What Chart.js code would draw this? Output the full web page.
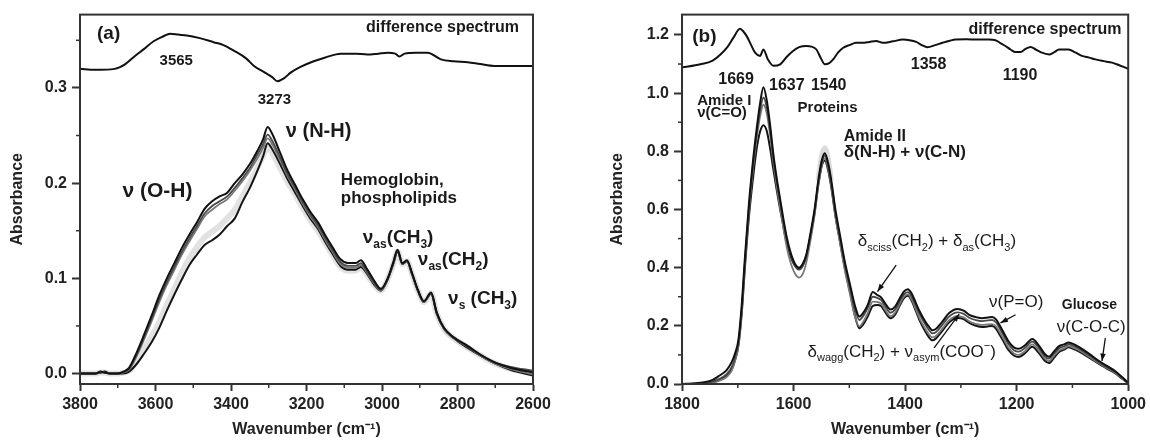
<!DOCTYPE html>
<html>
<head>
<meta charset="utf-8">
<script src="https://cdn.jsdelivr.net/npm/chart.js@4.4.1/dist/chart.umd.min.js"></script>
<style>
  body { margin: 0; background: #fff; }
  #wrap { position: relative; width: 1150px; height: 442px; }
  .panel { position: absolute; top: 0; width: 575px; height: 442px; }
</style>
</head>
<body>
<div id="wrap">
  <div class="panel" style="left:0"><canvas id="chartA"></canvas></div>
  <div class="panel" style="left:575px"><canvas id="chartB"></canvas></div>
</div>
<script>
const FONT = "'Liberation Sans', Arial, sans-serif";

// ---- panel (a): 3800-2600 cm-1 ----
const waveA = [3800, 3760, 3745, 3735, 3720, 3700, 3685, 3670, 3650, 3630, 3610, 3590, 3570, 3550, 3530, 3510, 3490, 3470, 3450, 3430,
  3410, 3390, 3370, 3350, 3330, 3315, 3303, 3290, 3270, 3250, 3230, 3210, 3190, 3170, 3150, 3130, 3110, 3090, 3070, 3056,
  3040, 3020, 3003, 2985, 2970, 2959, 2946, 2934, 2920, 2905, 2889, 2870, 2855, 2836, 2810, 2773, 2740, 2703, 2660, 2600];
const specA1 = [0.000, 0.000, 0.002, 0.001, 0.000, 0.000, 0.002, 0.006, 0.022, 0.041, 0.061, 0.082, 0.100, 0.116, 0.132, 0.146, 0.159, 0.173, 0.181, 0.186,
  0.190, 0.200, 0.209, 0.220, 0.234, 0.246, 0.259, 0.251, 0.232, 0.213, 0.198, 0.183, 0.170, 0.159, 0.145, 0.132, 0.120, 0.116, 0.116, 0.119,
  0.110, 0.097, 0.089, 0.100, 0.117, 0.130, 0.116, 0.119, 0.105, 0.088, 0.076, 0.085, 0.064, 0.048, 0.038, 0.029, 0.020, 0.012, 0.006, 0.001];
const specA2 = [0.000, 0.000, 0.001, 0.001, 0.000, 0.000, 0.001, 0.005, 0.020, 0.038, 0.058, 0.078, 0.096, 0.112, 0.128, 0.142, 0.155, 0.168, 0.176, 0.181,
  0.186, 0.195, 0.205, 0.216, 0.230, 0.241, 0.251, 0.244, 0.227, 0.209, 0.195, 0.180, 0.167, 0.156, 0.142, 0.129, 0.117, 0.113, 0.113, 0.116,
  0.107, 0.095, 0.088, 0.099, 0.116, 0.129, 0.115, 0.118, 0.104, 0.087, 0.076, 0.084, 0.064, 0.048, 0.038, 0.028, 0.020, 0.012, 0.007, 0.003];
const specA3 = [0.000, 0.000, 0.002, 0.001, 0.000, 0.000, 0.001, 0.004, 0.018, 0.036, 0.055, 0.075, 0.093, 0.109, 0.125, 0.139, 0.152, 0.165, 0.172, 0.178,
  0.183, 0.192, 0.202, 0.213, 0.226, 0.237, 0.247, 0.240, 0.224, 0.207, 0.193, 0.178, 0.165, 0.154, 0.140, 0.127, 0.115, 0.111, 0.111, 0.114,
  0.106, 0.094, 0.087, 0.099, 0.116, 0.129, 0.115, 0.118, 0.104, 0.087, 0.075, 0.084, 0.063, 0.047, 0.037, 0.028, 0.019, 0.011, 0.005, -0.001];
const specA4 = [0.000, 0.000, 0.001, 0.002, 0.000, 0.000, 0.000, 0.002, 0.010, 0.021, 0.033, 0.048, 0.066, 0.083, 0.099, 0.114, 0.125, 0.135, 0.140, 0.146,
  0.155, 0.163, 0.180, 0.195, 0.213, 0.228, 0.242, 0.235, 0.220, 0.204, 0.190, 0.176, 0.163, 0.152, 0.138, 0.125, 0.113, 0.109, 0.109, 0.112,
  0.105, 0.093, 0.087, 0.099, 0.115, 0.128, 0.115, 0.118, 0.104, 0.087, 0.075, 0.084, 0.063, 0.047, 0.037, 0.027, 0.019, 0.011, 0.004, -0.002];
const bandA = [0.000, 0.000, 0.001, 0.001, 0.000, 0.000, 0.001, 0.003, 0.013, 0.026, 0.039, 0.054, 0.072, 0.089, 0.106, 0.121, 0.133, 0.143, 0.149, 0.155,
  0.163, 0.172, 0.186, 0.200, 0.216, 0.229, 0.238, 0.231, 0.216, 0.201, 0.188, 0.174, 0.161, 0.150, 0.137, 0.124, 0.112, 0.108, 0.108, 0.111,
  0.104, 0.093, 0.087, 0.099, 0.115, 0.128, 0.115, 0.118, 0.104, 0.087, 0.075, 0.084, 0.063, 0.047, 0.037, 0.027, 0.019, 0.011, 0.005, 0.000];
const waveDiffA = [3800, 3760, 3708, 3680, 3659, 3630, 3605, 3580, 3561, 3540, 3517, 3480, 3446, 3420, 3392, 3360, 3339, 3310, 3290, 3277,
  3260, 3242, 3216, 3181, 3150, 3109, 3070, 3039, 3010, 2985, 2965, 2954, 2940, 2910, 2879, 2844, 2810, 2773, 2740, 2703, 2650, 2600];
const diffA = [0.320, 0.319, 0.320, 0.325, 0.332, 0.341, 0.349, 0.354, 0.357, 0.356, 0.355, 0.352, 0.348, 0.345, 0.339, 0.331, 0.323, 0.316, 0.311, 0.307,
  0.310, 0.316, 0.322, 0.328, 0.332, 0.336, 0.336, 0.335, 0.336, 0.337, 0.336, 0.333, 0.336, 0.337, 0.337, 0.330, 0.328, 0.327, 0.325, 0.323, 0.323, 0.323];
const xTicksA = [3800, 3600, 3400, 3200, 3000, 2800, 2600];
const xMinorA = [3700, 3500, 3300, 3100, 2900, 2700];
const yTicksA = [0.0, 0.1, 0.2, 0.3];
const yMinorA = [0.05, 0.15, 0.25, 0.35];

// ---- panel (b): 1800-1000 cm-1 ----
const waveB = [1800, 1780, 1760, 1745, 1735, 1720, 1711, 1705, 1699, 1693, 1687, 1680, 1672, 1666, 1660, 1654, 1648, 1642, 1636, 1630,
  1624, 1618, 1612, 1605, 1597, 1590, 1583, 1577, 1570, 1562, 1556, 1550, 1544, 1538, 1532, 1525, 1517, 1508, 1499, 1490,
  1482, 1475, 1467, 1458, 1450, 1443, 1435, 1426, 1418, 1410, 1402, 1395, 1388, 1381, 1374, 1366, 1357, 1351, 1345, 1335,
  1321, 1306, 1295, 1285, 1273, 1261, 1252, 1244, 1237, 1230, 1222, 1215, 1205, 1196, 1185, 1172, 1160, 1150, 1142, 1133,
  1124, 1115, 1107, 1095, 1083, 1068, 1053, 1038, 1023, 1010, 1000];
const specB1 = [0.000, 0.002, 0.006, 0.014, 0.026, 0.048, 0.075, 0.105, 0.150, 0.270, 0.440, 0.620, 0.780, 0.880, 0.965, 1.020, 0.975, 0.890, 0.787, 0.705,
  0.635, 0.565, 0.503, 0.450, 0.412, 0.400, 0.415, 0.446, 0.515, 0.605, 0.695, 0.764, 0.793, 0.760, 0.696, 0.600, 0.514, 0.420, 0.344, 0.270,
  0.232, 0.245, 0.272, 0.316, 0.306, 0.298, 0.275, 0.256, 0.266, 0.293, 0.318, 0.326, 0.310, 0.280, 0.250, 0.222, 0.196, 0.185, 0.189, 0.210,
  0.244, 0.258, 0.252, 0.238, 0.230, 0.226, 0.229, 0.230, 0.222, 0.200, 0.172, 0.148, 0.126, 0.121, 0.133, 0.155, 0.132, 0.104, 0.094, 0.112,
  0.130, 0.136, 0.143, 0.134, 0.121, 0.101, 0.080, 0.062, 0.044, 0.022, 0.005];
const specB2 = [0.000, 0.001, 0.003, 0.008, 0.016, 0.034, 0.058, 0.090, 0.140, 0.255, 0.425, 0.605, 0.765, 0.860, 0.940, 0.985, 0.950, 0.872, 0.775, 0.695,
  0.625, 0.556, 0.494, 0.443, 0.405, 0.393, 0.407, 0.440, 0.508, 0.598, 0.688, 0.756, 0.785, 0.752, 0.688, 0.592, 0.505, 0.410, 0.334, 0.258,
  0.220, 0.234, 0.262, 0.300, 0.296, 0.288, 0.265, 0.245, 0.256, 0.283, 0.308, 0.316, 0.300, 0.270, 0.240, 0.212, 0.185, 0.174, 0.178, 0.199,
  0.232, 0.246, 0.241, 0.228, 0.220, 0.216, 0.219, 0.220, 0.212, 0.190, 0.162, 0.138, 0.116, 0.111, 0.124, 0.146, 0.123, 0.096, 0.087, 0.105,
  0.123, 0.129, 0.136, 0.128, 0.115, 0.096, 0.076, 0.058, 0.041, 0.020, 0.004];
const specB3 = [0.000, 0.000, 0.002, 0.005, 0.010, 0.024, 0.045, 0.078, 0.130, 0.245, 0.415, 0.595, 0.752, 0.845, 0.920, 0.960, 0.930, 0.855, 0.760, 0.678,
  0.605, 0.533, 0.468, 0.415, 0.378, 0.366, 0.380, 0.418, 0.490, 0.585, 0.678, 0.748, 0.776, 0.742, 0.676, 0.578, 0.488, 0.390, 0.310, 0.232,
  0.198, 0.214, 0.244, 0.283, 0.282, 0.276, 0.253, 0.233, 0.245, 0.273, 0.300, 0.308, 0.290, 0.258, 0.226, 0.197, 0.170, 0.160, 0.165, 0.186,
  0.219, 0.234, 0.229, 0.216, 0.207, 0.203, 0.205, 0.206, 0.198, 0.177, 0.150, 0.126, 0.105, 0.100, 0.113, 0.136, 0.114, 0.088, 0.079, 0.097,
  0.115, 0.122, 0.130, 0.122, 0.110, 0.091, 0.072, 0.055, 0.038, 0.018, 0.003];
const specB4 = [0.000, 0.000, 0.002, 0.006, 0.012, 0.028, 0.050, 0.082, 0.130, 0.240, 0.405, 0.575, 0.720, 0.810, 0.868, 0.890, 0.870, 0.810, 0.735, 0.665,
  0.600, 0.540, 0.483, 0.437, 0.405, 0.396, 0.410, 0.440, 0.505, 0.592, 0.680, 0.745, 0.768, 0.735, 0.672, 0.578, 0.492, 0.398, 0.318, 0.235,
  0.192, 0.205, 0.232, 0.268, 0.272, 0.268, 0.245, 0.226, 0.238, 0.268, 0.295, 0.303, 0.285, 0.252, 0.219, 0.188, 0.160, 0.150, 0.156, 0.178,
  0.212, 0.227, 0.223, 0.210, 0.200, 0.196, 0.198, 0.199, 0.190, 0.168, 0.141, 0.118, 0.098, 0.093, 0.106, 0.128, 0.106, 0.081, 0.072, 0.090,
  0.110, 0.118, 0.126, 0.118, 0.106, 0.088, 0.070, 0.053, 0.036, 0.017, 0.002];
const waveBandB = [1556, 1550, 1544, 1538, 1532];
const bandB = [0.700, 0.782, 0.812, 0.776, 0.700];
const waveDiffB = [1800, 1767, 1745, 1731, 1718, 1708, 1696, 1690, 1684, 1676, 1669, 1660, 1654, 1646, 1636, 1624, 1612, 1601, 1590, 1577,
  1568, 1559, 1551, 1544, 1536, 1529, 1520, 1511, 1500, 1488, 1476, 1464, 1452, 1440, 1422, 1404, 1392, 1380, 1370, 1360,
  1346, 1333, 1320, 1309, 1290, 1270, 1250, 1238, 1229, 1220, 1211, 1202, 1193, 1184, 1175, 1166, 1157, 1142, 1133, 1124,
  1115, 1107, 1095, 1083, 1070, 1059, 1044, 1029, 1015, 1000];
const diffB = [1.088, 1.099, 1.112, 1.133, 1.160, 1.190, 1.221, 1.212, 1.196, 1.165, 1.139, 1.128, 1.150, 1.116, 1.094, 1.099, 1.125, 1.145, 1.158, 1.162,
  1.160, 1.150, 1.120, 1.099, 1.103, 1.116, 1.140, 1.156, 1.165, 1.173, 1.173, 1.176, 1.179, 1.173, 1.178, 1.184, 1.182, 1.176, 1.165, 1.158,
  1.165, 1.173, 1.180, 1.184, 1.185, 1.184, 1.184, 1.182, 1.172, 1.162, 1.150, 1.141, 1.141, 1.152, 1.159, 1.150, 1.141, 1.133, 1.140, 1.150,
  1.150, 1.150, 1.140, 1.128, 1.122, 1.116, 1.110, 1.105, 1.095, 1.084];
const xTicksB = [1800, 1600, 1400, 1200, 1000];
const xMinorB = [1700, 1500, 1300, 1100];
const yTicksB = [0.0, 0.2, 0.4, 0.6, 0.8, 1.0, 1.2];
const yMinorB = [0.1, 0.3, 0.5, 0.7, 0.9, 1.1];

// annotations, placed in data units (wavenumber, absorbance)
const labelsA = [
  { text: '(a)', w: 3755, v: 0.357, size: 19, align: 'left' },
  { text: 'difference spectrum', w: 2637, v: 0.363, size: 16, align: 'right' },
  { text: '3565', w: 3545, v: 0.3285, size: 15, align: 'center' },
  { text: '3273', w: 3285, v: 0.2877, size: 15, align: 'center' },
  { text: 'ν (O-H)', w: 3595, v: 0.192, size: 21, align: 'center' },
  { text: 'ν (N-H)', w: 3168, v: 0.254, size: 20, align: 'center' },
  { text: 'Hemoglobin,', w: 3109, v: 0.2028, size: 17, align: 'left' },
  { text: 'phospholipids', w: 3109, v: 0.184, size: 17, align: 'left' },
  { text: 'ν_{as}(CH_{3})', w: 3051, v: 0.143, size: 19, align: 'left' },
  { text: 'ν_{as}(CH_{2})', w: 2905, v: 0.120, size: 19, align: 'left' },
  { text: 'ν_{s} (CH_{3})', w: 2825, v: 0.079, size: 19, align: 'left' }
];
const labelsB = [
  { text: '(b)', w: 1781.6, v: 1.194, size: 19, align: 'left' },
  { text: 'difference spectrum', w: 1012, v: 1.2175, size: 16, align: 'right' },
  { text: '1669', w: 1703, v: 1.047, size: 16, align: 'center' },
  { text: '1637', w: 1612, v: 1.027, size: 16, align: 'center' },
  { text: '1540', w: 1537, v: 1.027, size: 16, align: 'center' },
  { text: 'Amide I', w: 1772.7, v: 0.975, size: 15, align: 'left' },
  { text: 'ν(C=O)', w: 1772.7, v: 0.931, size: 15, align: 'left' },
  { text: 'Proteins', w: 1539, v: 0.948, size: 15, align: 'center' },
  { text: 'Amide II', w: 1510, v: 0.849, size: 16, align: 'left' },
  { text: 'δ(N-H) + ν(C-N)', w: 1510, v: 0.798, size: 17, align: 'left' },
  { text: '1358', w: 1358, v: 1.098, size: 16, align: 'center' },
  { text: '1190', w: 1194, v: 1.061, size: 16, align: 'center' },
  { text: 'δ_{sciss}(CH_{2}) + δ_{as}(CH_{3})', w: 1485, v: 0.491, size: 17, align: 'left', weight: 'normal' },
  { text: 'ν(P=O)', w: 1249.5, v: 0.281, size: 17, align: 'left', weight: 'normal' },
  { text: 'Glucose', w: 1119, v: 0.271, size: 14, align: 'left' },
  { text: 'ν(C-O-C)', w: 1128, v: 0.196, size: 17, align: 'left', weight: 'normal' },
  { text: 'δ_{wagg}(CH_{2}) + ν_{asym}(COO^{−})', w: 1575, v: 0.110, size: 17, align: 'left', weight: 'normal' }
];
const arrowsB = [
  { from: [1416, 0.409], to: [1449.5, 0.318] },
  { from: [1202, 0.238], to: [1229, 0.210] },
  { from: [1041, 0.158], to: [1047, 0.079] },
  { from: [1348, 0.124], to: [1303, 0.240] }
];

function pts(xs, ys) {
  return xs.map((x, i) => ({ x: x, y: ys[i] }));
}

function line(xs, ys, color, width) {
  return {
    data: pts(xs, ys),
    borderColor: color,
    borderWidth: width,
    pointRadius: 0,
    fill: false,
    cubicInterpolationMode: 'monotone'
  };
}

function parseRich(s) {
  const out = [];
  const re = /([_^])\{([^}]*)\}/g;
  let last = 0, m;
  while ((m = re.exec(s))) {
    if (m.index > last) out.push({ t: s.slice(last, m.index), k: 0 });
    out.push({ t: m[2], k: m[1] === '_' ? 1 : -1 });
    last = re.lastIndex;
  }
  if (last < s.length) out.push({ t: s.slice(last), k: 0 });
  return out;
}

function drawRich(ctx, s, x, y, size, align, weight) {
  const segs = parseRich(s);
  const small = Math.round(size * 0.62);
  const fontOf = k => weight + ' ' + (k ? small : size) + 'px ' + FONT;
  let total = 0;
  segs.forEach(g => { ctx.font = fontOf(g.k); g.w = ctx.measureText(g.t).width; total += g.w; });
  let cx = align === 'center' ? x - total / 2 : align === 'right' ? x - total : x;
  ctx.textAlign = 'left';
  ctx.textBaseline = 'middle';
  ctx.fillStyle = '#1a1a1a';
  segs.forEach(g => {
    ctx.font = fontOf(g.k);
    const dy = g.k === 1 ? size * 0.38 : g.k === -1 ? -size * 0.36 : 0;
    ctx.fillText(g.t, cx, y + dy);
    cx += g.w;
  });
}

// frame, minor ticks, annotations and arrows
const decor = {
  id: 'decor',
  afterDraw(chart, args, opts) {
    const { ctx, chartArea: a } = chart;
    const x = chart.scales.x, y = chart.scales.y;
    ctx.save();
    ctx.strokeStyle = '#333';
    ctx.lineWidth = 2;
    ctx.strokeRect(a.left, a.top, a.right - a.left, a.bottom - a.top);
    ctx.lineWidth = 1.5;
    opts.minorX.forEach(v => {
      const p = x.getPixelForValue(v);
      ctx.beginPath(); ctx.moveTo(p, a.bottom); ctx.lineTo(p, a.bottom + 4); ctx.stroke();
    });
    opts.minorY.forEach(v => {
      const p = y.getPixelForValue(v);
      ctx.beginPath(); ctx.moveTo(a.left, p); ctx.lineTo(a.left - 4, p); ctx.stroke();
    });
    opts.labels.forEach(l => {
      drawRich(ctx, l.text, x.getPixelForValue(l.w), y.getPixelForValue(l.v), l.size, l.align, l.weight || 'bold');
    });
    ctx.strokeStyle = '#111';
    ctx.fillStyle = '#111';
    ctx.lineWidth = 1.3;
    (opts.arrows || []).forEach(r => {
      const x1 = x.getPixelForValue(r.from[0]), y1 = y.getPixelForValue(r.from[1]);
      const x2 = x.getPixelForValue(r.to[0]), y2 = y.getPixelForValue(r.to[1]);
      const ang = Math.atan2(y2 - y1, x2 - x1);
      ctx.beginPath(); ctx.moveTo(x1, y1); ctx.lineTo(x2, y2); ctx.stroke();
      ctx.beginPath();
      ctx.moveTo(x2, y2);
      ctx.lineTo(x2 - 8 * Math.cos(ang - 0.35), y2 - 8 * Math.sin(ang - 0.35));
      ctx.lineTo(x2 - 8 * Math.cos(ang + 0.35), y2 - 8 * Math.sin(ang + 0.35));
      ctx.closePath();
      ctx.fill();
    });
    ctx.restore();
  }
};

function makePanel(id, cfg) {
  const tickFont = { family: FONT, size: 16, weight: 'bold' };
  return new Chart(document.getElementById(id), {
    type: 'line',
    data: { datasets: cfg.datasets },
    plugins: [decor],
    options: {
      responsive: true,
      maintainAspectRatio: false,
      animation: false,
      layout: { padding: cfg.padding },
      plugins: {
        legend: { display: false },
        tooltip: { enabled: false },
        decor: { minorX: cfg.minorX, minorY: cfg.minorY, labels: cfg.labels, arrows: cfg.arrows }
      },
      scales: {
        x: {
          type: 'linear',
          reverse: true,
          min: cfg.xMin,
          max: cfg.xMax,
          afterBuildTicks: s => { s.ticks = cfg.xTicks.map(v => ({ value: v })); },
          afterFit: s => { s.height = 58; },
          ticks: { font: tickFont, color: '#222', padding: 4, maxRotation: 0, autoSkip: false, callback: v => String(v) },
          grid: { drawOnChartArea: false, tickLength: 7, tickWidth: 2, tickColor: '#333' },
          border: { color: '#333', width: 2 },
          title: { display: true, text: 'Wavenumber (cm⁻¹)', color: '#222', font: tickFont, padding: { top: 0, bottom: 3 } }
        },
        y: {
          type: 'linear',
          min: cfg.yMin,
          max: cfg.yMax,
          afterBuildTicks: s => { s.ticks = cfg.yTicks.map(v => ({ value: v })); },
          afterFit: s => { s.width = cfg.yWidth; },
          ticks: { font: tickFont, color: '#222', padding: 5, callback: v => v.toFixed(1) },
          grid: { drawOnChartArea: false, tickLength: 8, tickWidth: 2, tickColor: '#333' },
          border: { color: '#333', width: 2 },
          title: { display: true, text: 'Absorbance', color: '#222', font: tickFont, padding: { top: cfg.titlePad, bottom: 0 } }
        }
      }
    }
  });
}

makePanel('chartA', {
  datasets: [
    line(waveA, specA1, '#111', 2),
    line(waveA, specA2, '#4a4a4a', 1.8),
    line(waveA, specA3, '#7a7a7a', 1.8),
    line(waveA, specA4, '#151515', 2),
    line(waveDiffA, diffA, '#111', 2),
    line(waveA, bandA, '#e2e2e2', 6)
  ],
  padding: { left: 0, right: 42, top: 14, bottom: 0 },
  xMin: 2600, xMax: 3800, yMin: -0.011, yMax: 0.377,
  xTicks: xTicksA, yTicks: yTicksA, minorX: xMinorA, minorY: yMinorA,
  yWidth: 80, titlePad: 8,
  labels: labelsA
});

makePanel('chartB', {
  datasets: [
    line(waveB, specB1, '#111', 2),
    line(waveB, specB2, '#4a4a4a', 1.8),
    line(waveB, specB3, '#7a7a7a', 1.8),
    line(waveB, specB4, '#151515', 2),
    line(waveDiffB, diffB, '#111', 2),
    line(waveBandB, bandB, '#dcdcdc', 5)
  ],
  padding: { left: 0, right: 20, top: 12, bottom: 0 },
  xMin: 1000, xMax: 1800, yMin: 0, yMax: 1.27,
  xTicks: xTicksB, yTicks: yTicksB, minorX: xMinorB, minorY: yMinorB,
  yWidth: 107, titlePad: 33,
  labels: labelsB, arrows: arrowsB
});
</script>
</body>
</html>
